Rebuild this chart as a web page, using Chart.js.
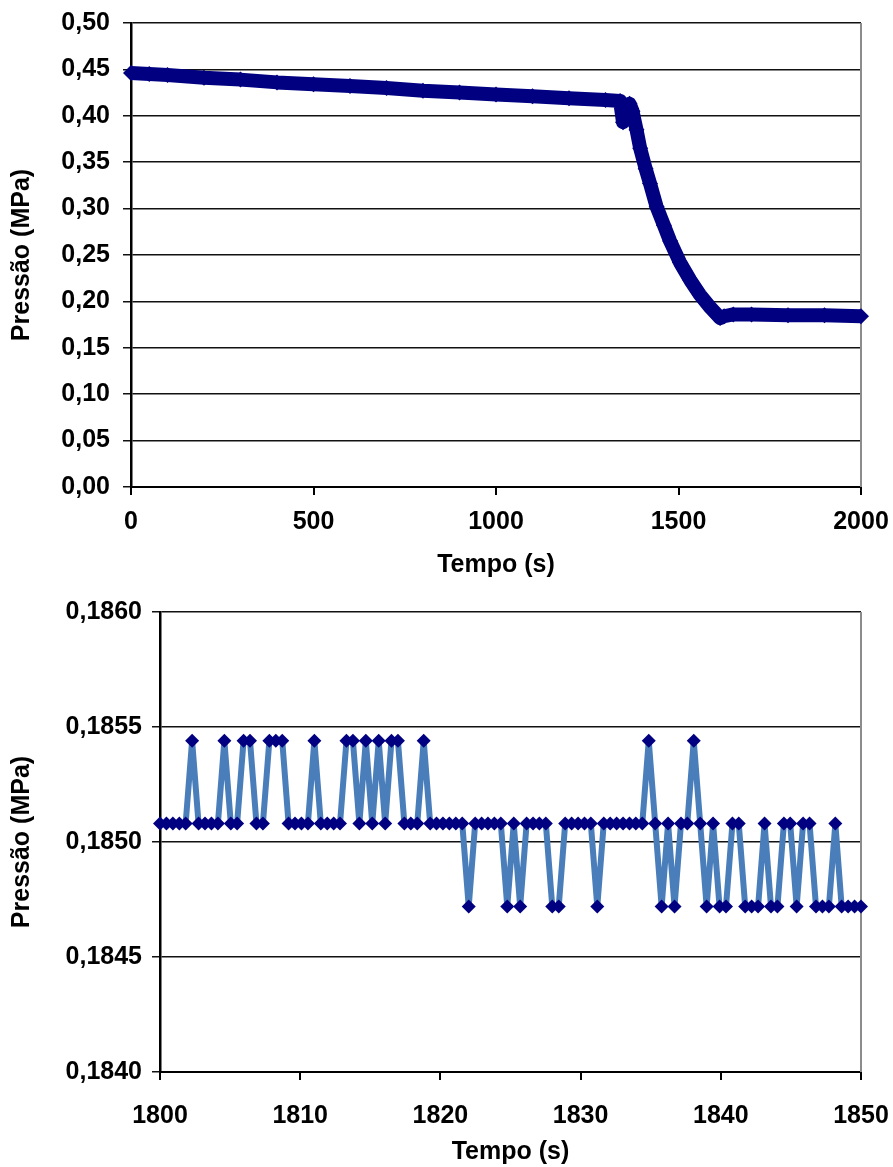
<!DOCTYPE html>
<html lang="pt">
<head>
<meta charset="utf-8">
<title>Pressão x Tempo</title>
<script src="https://cdn.jsdelivr.net/npm/chart.js@4.4.1/dist/chart.umd.min.js"></script>
<style>
  html, body { margin: 0; padding: 0; background: #fff; }
  body { width: 893px; height: 1167px; position: relative; overflow: hidden; }
  canvas { position: absolute; left: 0; }
  #chartFull { top: 0; }
  #chartZoom { top: 590px; }
</style>
</head>
<body>
<canvas id="chartFull" width="893" height="590"></canvas>
<canvas id="chartZoom" width="893" height="577"></canvas>
<script>
// ensaio completo: pressão ao longo de 2000 s
const tempoEnsaio = [0, 50, 100, 200, 300, 400, 500, 600, 700, 800, 900, 1000, 1100, 1200, 1300,
    1340, 1348, 1356, 1366, 1374, 1385, 1395, 1410, 1422, 1440, 1460, 1477, 1504, 1532, 1559,
    1586, 1614, 1625, 1650, 1700, 1800, 1900, 2000];
const pressaoEnsaio = [0.446, 0.445, 0.444, 0.441, 0.439, 0.436, 0.434, 0.432, 0.430, 0.427, 0.425, 0.423, 0.421, 0.419, 0.417,
    0.416, 0.393, 0.398, 0.413, 0.405, 0.385, 0.365, 0.343, 0.327, 0.302, 0.282, 0.265, 0.242, 0.223, 0.207,
    0.194, 0.182, 0.184, 0.186, 0.186, 0.185, 0.185, 0.184];

// detalhe entre 1800 e 1850 s (leituras do transdutor)
const tempoDetalhe = [
    1800.00, 1800.46, 1800.92, 1801.38, 1801.83, 1802.29, 1802.75, 1803.21, 1803.67, 1804.13,
    1804.59, 1805.05, 1805.50, 1805.96, 1806.42, 1806.88, 1807.34, 1807.80, 1808.26, 1808.72,
    1809.17, 1809.63, 1810.09, 1810.55, 1811.01, 1811.47, 1811.93, 1812.39, 1812.84, 1813.30,
    1813.76, 1814.22, 1814.68, 1815.14, 1815.60, 1816.06, 1816.51, 1816.97, 1817.43, 1817.89,
    1818.35, 1818.81, 1819.27, 1819.72, 1820.18, 1820.64, 1821.10, 1821.56, 1822.02, 1822.48,
    1822.94, 1823.39, 1823.85, 1824.31, 1824.77, 1825.23, 1825.69, 1826.15, 1826.61, 1827.06,
    1827.52, 1827.98, 1828.44, 1828.90, 1829.36, 1829.82, 1830.28, 1830.73, 1831.19, 1831.65,
    1832.11, 1832.57, 1833.03, 1833.49, 1833.94, 1834.40, 1834.86, 1835.32, 1835.78, 1836.24,
    1836.70, 1837.16, 1837.61, 1838.07, 1838.53, 1838.99, 1839.45, 1839.91, 1840.37, 1840.83,
    1841.28, 1841.74, 1842.20, 1842.66, 1843.12, 1843.58, 1844.04, 1844.50, 1844.95, 1845.41,
    1845.87, 1846.33, 1846.79, 1847.25, 1847.71, 1848.17, 1848.62, 1849.08, 1849.54, 1850.00];
const pressaoDetalhe = [
    0.18508, 0.18508, 0.18508, 0.18508, 0.18508, 0.18544, 0.18508, 0.18508, 0.18508, 0.18508,
    0.18544, 0.18508, 0.18508, 0.18544, 0.18544, 0.18508, 0.18508, 0.18544, 0.18544, 0.18544,
    0.18508, 0.18508, 0.18508, 0.18508, 0.18544, 0.18508, 0.18508, 0.18508, 0.18508, 0.18544,
    0.18544, 0.18508, 0.18544, 0.18508, 0.18544, 0.18508, 0.18544, 0.18544, 0.18508, 0.18508,
    0.18508, 0.18544, 0.18508, 0.18508, 0.18508, 0.18508, 0.18508, 0.18508, 0.18472, 0.18508,
    0.18508, 0.18508, 0.18508, 0.18508, 0.18472, 0.18508, 0.18472, 0.18508, 0.18508, 0.18508,
    0.18508, 0.18472, 0.18472, 0.18508, 0.18508, 0.18508, 0.18508, 0.18508, 0.18472, 0.18508,
    0.18508, 0.18508, 0.18508, 0.18508, 0.18508, 0.18508, 0.18544, 0.18508, 0.18472, 0.18508,
    0.18472, 0.18508, 0.18508, 0.18544, 0.18508, 0.18472, 0.18508, 0.18472, 0.18472, 0.18508,
    0.18508, 0.18472, 0.18472, 0.18472, 0.18508, 0.18472, 0.18472, 0.18508, 0.18508, 0.18472,
    0.18508, 0.18508, 0.18472, 0.18472, 0.18472, 0.18508, 0.18472, 0.18472, 0.18472, 0.18472];

const ticksEnsaioX = [0, 500, 1000, 1500, 2000];
const ticksDetalheX = [1800, 1810, 1820, 1830, 1840, 1850];

const FONT = { family: "'Liberation Sans', Arial, sans-serif", size: 25, weight: 'bold' };

// borda cinza à direita da área de plotagem
const plotFrame = {
    id: 'plotFrame',
    beforeDatasetsDraw(chart) {
        const { ctx, chartArea } = chart;
        ctx.save();
        ctx.strokeStyle = '#8c8c8c';
        ctx.lineWidth = 2;
        ctx.beginPath();
        ctx.moveTo(chartArea.right, chartArea.top);
        ctx.lineTo(chartArea.right, chartArea.bottom);
        ctx.stroke();
        ctx.restore();
    }
};

function makeChart(canvasId, cfg) {
    return new Chart(document.getElementById(canvasId), {
        type: 'line',
        data: {
            datasets: [{
                data: cfg.x.map((t, i) => ({ x: t, y: cfg.y[i] })),
                borderColor: cfg.lineColor,
                borderWidth: cfg.lineWidth,
                borderJoinStyle: 'round',
                pointStyle: 'rectRot',
                pointRadius: cfg.markerRadius,
                pointBackgroundColor: '#000080',
                pointBorderColor: '#000080',
                pointBorderWidth: 0,
                tension: 0,
                clip: false
            }]
        },
        options: {
            responsive: false,
            animation: false,
            devicePixelRatio: 1,
            layout: { padding: { top: cfg.top, right: 32, left: 0, bottom: 0 } },
            plugins: { legend: { display: false }, tooltip: { enabled: false } },
            scales: {
                x: {
                    type: 'linear',
                    min: cfg.xTicks[0],
                    max: cfg.xTicks[cfg.xTicks.length - 1],
                    afterBuildTicks: s => { s.ticks = cfg.xTicks.map(v => ({ value: v })); },
                    afterFit: s => {
                        s.height = cfg.xAxisHeight;
                        s.paddingLeft = 0;
                        s.paddingRight = 0;
                    },
                    border: { display: true, color: '#000', width: 2 },
                    grid: { drawOnChartArea: false, drawTicks: true, tickLength: 8, color: '#000', lineWidth: 2 },
                    ticks: {
                        font: FONT, color: '#000', padding: cfg.xPad, maxRotation: 0, autoSkip: false,
                        callback: v => String(v)
                    },
                    title: { display: true, text: 'Tempo (s)', font: FONT, color: '#000', padding: { top: 0, bottom: cfg.titlePad } }
                },
                y: {
                    min: cfg.yMin,
                    max: cfg.yMax,
                    afterFit: s => {
                        s.width = cfg.yAxisWidth;
                        s.paddingTop = 0;
                        s.paddingBottom = 0;
                    },
                    border: { display: true, color: '#000', width: 2.5 },
                    grid: { drawTicks: true, tickLength: 8, color: '#111', lineWidth: 1.5 },
                    ticks: {
                        stepSize: cfg.yStep,
                        font: FONT,
                        color: '#000',
                        padding: cfg.yPad,
                        callback: v => v.toFixed(cfg.decimals).replace('.', ',')
                    },
                    title: { display: true, text: 'Pressão (MPa)', font: FONT, color: '#000', padding: { top: 7, bottom: 0 } }
                }
            }
        },
        plugins: [plotFrame]
    });
}

makeChart('chartFull', {
    x: tempoEnsaio, y: pressaoEnsaio, xTicks: ticksEnsaioX,
    lineColor: '#000080', lineWidth: 14, markerRadius: 8,
    yMin: 0, yMax: 0.5, yStep: 0.05, decimals: 2,
    top: 23, yAxisWidth: 131, xAxisHeight: 103,
    xPad: 12, yPad: 13, titlePad: 10
});

makeChart('chartZoom', {
    x: tempoDetalhe, y: pressaoDetalhe, xTicks: ticksDetalheX,
    lineColor: '#4a7ebb', lineWidth: 6, markerRadius: 7,
    yMin: 0.184, yMax: 0.186, yStep: 0.0005, decimals: 4,
    top: 22, yAxisWidth: 160, xAxisHeight: 95,
    xPad: 21, yPad: 10, titlePad: 0
});
</script>
</body>
</html>
